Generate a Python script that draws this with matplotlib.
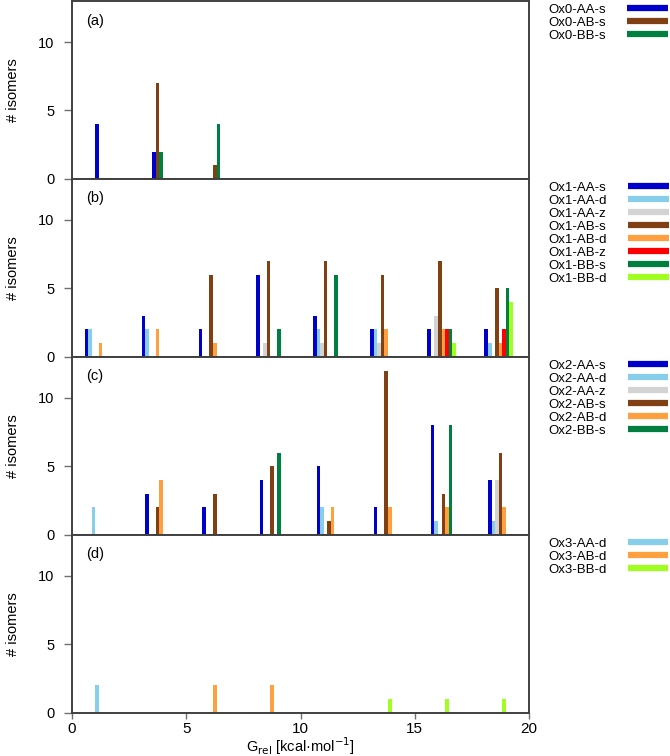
import matplotlib
matplotlib.use("Agg")
import matplotlib.pyplot as plt

plt.rcParams['font.family'] = ['Liberation Sans', 'DejaVu Sans']

# Energy bins (kcal/mol), bin centres
bin_centers = [1.25, 3.75, 6.25, 8.75, 11.25, 13.75, 16.25, 18.75]

# Panel (a) Ox0
ox0_labels = ["Ox0-AA-s", "Ox0-AB-s", "Ox0-BB-s"]
ox0_AA_s = [4, 2, 0, 0, 0, 0, 0, 0]
ox0_AB_s = [0, 7, 1, 0, 0, 0, 0, 0]
ox0_BB_s = [0, 2, 4, 0, 0, 0, 0, 0]

# Panel (b) Ox1
ox1_labels = ["Ox1-AA-s", "Ox1-AA-d", "Ox1-AA-z", "Ox1-AB-s",
              "Ox1-AB-d", "Ox1-AB-z", "Ox1-BB-s", "Ox1-BB-d"]
ox1_AA_s = [2, 3, 2, 6, 3, 2, 2, 2]
ox1_AA_d = [2, 2, 0, 0, 2, 2, 0, 1]
ox1_AA_z = [0, 0, 0, 1, 1, 1, 3, 0]
ox1_AB_s = [0, 0, 6, 7, 7, 6, 7, 5]
ox1_AB_d = [1, 2, 1, 0, 0, 2, 2, 1]
ox1_AB_z = [0, 0, 0, 0, 0, 0, 2, 2]
ox1_BB_s = [0, 0, 0, 2, 6, 0, 2, 5]
ox1_BB_d = [0, 0, 0, 0, 0, 0, 1, 4]

# Panel (c) Ox2
ox2_labels = ["Ox2-AA-s", "Ox2-AA-d", "Ox2-AA-z", "Ox2-AB-s", "Ox2-AB-d", "Ox2-BB-s"]
ox2_AA_s = [0, 3, 2, 4, 5, 2, 8, 4]
ox2_AA_d = [2, 0, 0, 0, 2, 0, 1, 1]
ox2_AA_z = [0, 0, 0, 0, 0, 0, 0, 4]
ox2_AB_s = [0, 2, 3, 5, 1, 12, 3, 6]
ox2_AB_d = [0, 4, 0, 0, 2, 2, 2, 2]
ox2_BB_s = [0, 0, 0, 6, 0, 0, 8, 0]

# Panel (d) Ox3
ox3_labels = ["Ox3-AA-d", "Ox3-AB-d", "Ox3-BB-d"]
ox3_AA_d = [2, 0, 0, 0, 0, 0, 0, 0]
ox3_AB_d = [0, 0, 2, 2, 0, 0, 0, 0]
ox3_BB_d = [0, 0, 0, 0, 0, 1, 1, 1]

C_AAs = "#0000cd"
C_AAd = "#87ceeb"
C_AAz = "#d3d3d3"
C_ABs = "#804014"
C_ABd = "#ffa040"
C_ABz = "#ff0000"
C_BBs = "#008040"
C_BBd = "#a0ff20"

panels = [
    ("(a)", ox0_labels, [ox0_AA_s, ox0_AB_s, ox0_BB_s], [C_AAs, C_ABs, C_BBs]),
    ("(b)", ox1_labels, [ox1_AA_s, ox1_AA_d, ox1_AA_z, ox1_AB_s, ox1_AB_d, ox1_AB_z, ox1_BB_s, ox1_BB_d],
     [C_AAs, C_AAd, C_AAz, C_ABs, C_ABd, C_ABz, C_BBs, C_BBd]),
    ("(c)", ox2_labels, [ox2_AA_s, ox2_AA_d, ox2_AA_z, ox2_AB_s, ox2_AB_d, ox2_BB_s],
     [C_AAs, C_AAd, C_AAz, C_ABs, C_ABd, C_BBs]),
    ("(d)", ox3_labels, [ox3_AA_d, ox3_AB_d, ox3_BB_d], [C_AAd, C_ABd, C_BBd]),
]

W, H = 670, 756
fig = plt.figure(figsize=(W / 100, H / 100), dpi=100)
fig.subplots_adjust(left=72 / W, right=529 / W, top=1 - 1 / H, bottom=1 - 712.7 / H, hspace=0)
axes = fig.subplots(4, 1, sharex=True)

slot = 0.155
spine_col = "#404040"
for ax, (tag, labels, series, colors) in zip(axes, panels):
    n = len(series)
    handles = []
    for i, (vals, col) in enumerate(zip(series, colors)):
        off = (i - n // 2) * slot
        xs = [c + off for c in bin_centers]
        ax.bar(xs, vals, width=slot, color=col, linewidth=0)
        h, = ax.plot([], [], color=col, linewidth=4.5, solid_capstyle='butt')
        handles.append(h)
    ax.set_xlim(0, 20)
    ax.set_ylim(0, 13)
    ax.set_yticks([0, 5, 10])
    ax.set_ylabel("# isomers", fontsize=10.5, labelpad=13)
    ax.tick_params(axis='y', direction='out', length=5.5, width=1, color='#707070',
                   labelsize=10.5, pad=7)
    ax.tick_params(axis='x', direction='out', length=4, width=1, color='#707070',
                   labelsize=11, pad=2.5)
    for s in ax.spines.values():
        s.set_color(spine_col)
        s.set_linewidth(1.4)
    ax.text(0.03, 0.89, tag, transform=ax.transAxes, fontsize=10.5, va='center', ha='left')
    ax.legend(handles, labels, loc='upper left', bbox_to_anchor=(1.036, 1.0),
              frameon=False, markerfirst=False, fontsize=9.5, handlelength=3.1,
              handletextpad=1.6, labelspacing=0.06, borderaxespad=0.2, borderpad=0.0)

for ax in axes[:-1]:
    ax.tick_params(axis='x', length=0, labelbottom=False)

axes[-1].set_xticks([0, 5, 10, 15, 20])
axes[-1].set_xlabel("G$_{\\rm rel}$ [kcal\u00b7mol$^{-1}$]", fontsize=10.5, labelpad=0)

fig.savefig("out.png", dpi=100)
